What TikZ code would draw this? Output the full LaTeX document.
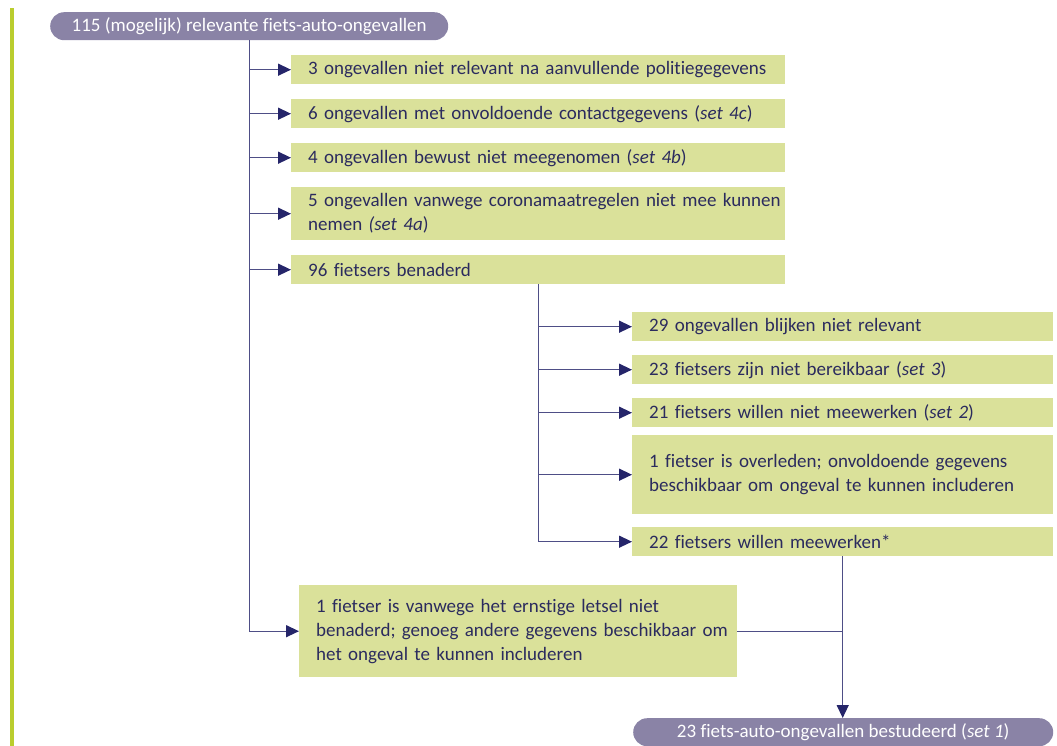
\documentclass[tikz,border=0pt]{standalone}
\usepackage{fontspec}
\setmainfont{Carlito}[Ligatures=NoCommon]
\usetikzlibrary{arrows.meta}
\definecolor{boxgreen}{HTML}{DAE19A}
\definecolor{pillpurple}{HTML}{8A83A6}
\definecolor{txtnavy}{HTML}{2B2B5E}
\definecolor{linenavy}{HTML}{4E4E86}
\definecolor{arrnavy}{HTML}{25256A}
\definecolor{barlime}{HTML}{BACD2E}
\tikzset{
  gbox/.style={fill=boxgreen, draw=none, inner xsep=17pt, inner ysep=0pt, align=left,
    anchor=north west, text=txtnavy, font=\fontsize{19}{24}\selectfont},
  pill/.style={fill=pillpurple, draw=none, rounded corners=14pt, inner sep=0pt,
    anchor=north west, text=white, font=\fontsize{19}{24}\selectfont},
  conn/.style={draw=linenavy, line width=1.4pt},
  arr/.style={conn, -{Triangle[length=13pt,width=12pt,fill=arrnavy,color=arrnavy]}},
}
\begin{document}
\begin{tikzpicture}[x=1pt,y=-1pt]
\useasboundingbox (0,0) rectangle (1057,746);
\fill[barlime] (10,8) rectangle (13.5,746);

\node[pill, minimum width=398pt, minimum height=28pt] (top) at (50,12) {115 (mogelijk) relevante fiets-auto-ongevallen};

\node[gbox, text width=460pt, minimum height=29pt] (b1) at (291,55) {3 ongevallen niet relevant na aanvullende politiegegevens};
\node[gbox, text width=460pt, minimum height=29pt] (b2) at (291,99) {6 ongevallen met onvoldoende contactgegevens (\textit{set 4c})};
\node[gbox, text width=460pt, minimum height=29pt] (b3) at (291,143) {4 ongevallen bewust niet meegenomen (\textit{set 4b})};
\node[gbox, text width=460pt, minimum height=53pt] (b4) at (291,187) {\mbox{5 ongevallen vanwege coronamaatregelen niet mee kunnen}\\nemen \textit{(set 4a})};
\node[gbox, text width=460pt, minimum height=29pt] (b5) at (291,255) {96 fietsers benaderd};

\node[gbox, text width=387pt, minimum height=29pt] (c1) at (632,312) {29 ongevallen blijken niet relevant};
\node[gbox, text width=387pt, minimum height=29pt] (c2) at (632,355) {23 fietsers zijn niet bereikbaar (\textit{set 3})};
\node[gbox, text width=387pt, minimum height=29pt] (c3) at (632,398) {21 fietsers willen niet meewerken (\textit{set 2})};
\node[gbox, text width=387pt, minimum height=79pt] (c4) at (632,435) {1 fietser is overleden; onvoldoende gegevens\\beschikbaar om ongeval te kunnen includeren};
\node[gbox, text width=387pt, minimum height=29pt] (c5) at (632,527) {22 fietsers willen meewerken*};

\node[gbox, text width=404pt, minimum height=92pt] (f) at (299,585) {1 fietser is vanwege het ernstige letsel niet\\\mbox{benaderd; genoeg andere gegevens beschikbaar om}\\het ongeval te kunnen includeren};

\node[pill, minimum width=420pt, minimum height=28pt] (bot) at (633,718) {23 fiets-auto-ongevallen bestudeerd (\textit{set 1})};

% main trunk
\draw[arr] (top.south) -- (top.south |- f.west) -- (f.west);
\foreach \b in {b1,b2,b3,b4,b5} \draw[arr] (top.south |- \b.west) -- (\b.west);
% sub trunk
\draw[arr] (b5.south) -- (b5.south |- c5.west) -- (c5.west);
\foreach \c in {c1,c2,c3,c4} \draw[arr] (b5.south |- \c.west) -- (\c.west);
% to result
\draw[conn] (f.east) -- (c5.south |- f.east);
\draw[arr] (c5.south) -- (c5.south |- bot.north);
\end{tikzpicture}
\end{document}
